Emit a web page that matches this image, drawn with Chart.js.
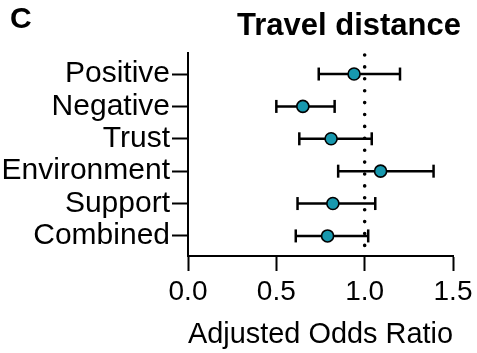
<!DOCTYPE html>
<html>
<head>
<meta charset="utf-8">
<script src="https://cdn.jsdelivr.net/npm/chart.js@4.4.1/dist/chart.umd.min.js"></script>
<style>
  html, body { margin: 0; padding: 0; background: #fff; }
  #wrap { width: 477px; height: 353px; position: relative; }
</style>
</head>
<body>
<div id="wrap"><canvas id="c" width="477" height="353"></canvas></div>
<script>
// ---- data ----
const categories = ['Positive', 'Negative', 'Trust', 'Environment', 'Support', 'Combined'];
const oddsRatio  = [0.94, 0.65, 0.81, 1.09, 0.82, 0.79];
const ciLower    = [0.74, 0.50, 0.63, 0.85, 0.62, 0.61];
const ciUpper    = [1.20, 0.83, 1.04, 1.39, 1.06, 1.02];
const xTicks     = [0.0, 0.5, 1.0, 1.5];
const refValue   = 1.0;
const panelLabel = 'C';
const titleText  = 'Travel distance';
const xTitle     = 'Adjusted Odds Ratio';

// ---- style ----
const FONT = "'Liberation Sans', Arial, Helvetica, sans-serif";
const TEAL = '#1798AE';
const Y_MIN = -0.65, Y_MAX = 5.62;

const pointData = categories.map((c, i) => ({ x: oddsRatio[i], y: i }));

const ciDatasets = categories.map((c, i) => ({
  label: c + ' CI',
  data: [{ x: ciLower[i], y: i }, { x: ciUpper[i], y: i }],
  showLine: true,
  borderColor: '#000',
  borderWidth: 2.5,
  pointStyle: 'line',
  rotation: 90,
  pointRadius: 6.5,
  pointBorderWidth: 2.5,
  pointBorderColor: '#000',
  pointBackgroundColor: '#000',
  order: 2
}));

const refDataset = {
  label: 'ref',
  data: [{ x: refValue, y: Y_MIN }, { x: refValue, y: Y_MAX }],
  showLine: true,
  borderColor: '#000',
  borderWidth: 3.6,
  borderDash: [0, 11.9],
  borderDashOffset: 9.9,
  borderCapStyle: 'round',
  pointRadius: 0,
  order: 3
};

const mainDataset = {
  label: 'OR',
  data: pointData,
  showLine: false,
  pointRadius: 6,
  pointBackgroundColor: TEAL,
  pointBorderColor: '#000',
  pointBorderWidth: 1.6,
  order: 1
};

const titlePlugin = {
  id: 'panelTitle',
  afterDraw(chart) {
    const ctx = chart.ctx;
    ctx.save();
    ctx.fillStyle = '#000';
    ctx.textBaseline = 'alphabetic';
    ctx.textAlign = 'left';
    ctx.font = 'bold 30px ' + FONT;
    ctx.fillText(panelLabel, 10, 28);
    ctx.textAlign = 'center';
    ctx.font = 'bold 31px ' + FONT;
    ctx.fillText(titleText, 349, 35);
    ctx.restore();
  }
};

new Chart(document.getElementById('c'), {
  type: 'scatter',
  data: { datasets: [mainDataset, ...ciDatasets, refDataset] },
  plugins: [titlePlugin],
  options: {
    responsive: false,
    animation: false,
    layout: { padding: { top: 53, right: 24, left: 0, bottom: 0 } },
    plugins: { legend: { display: false }, tooltip: { enabled: false } },
    scales: {
      x: {
        type: 'linear',
        min: 0, max: 1.5,
        afterBuildTicks: (s) => { s.ticks = xTicks.map(v => ({ value: v })); },
        afterFit: (s) => { s.height = 353 - 256; },
        ticks: {
          color: '#000',
          font: { family: FONT, size: 28 },
          padding: 4,
          maxRotation: 0,
          callback: (v) => Number(v).toFixed(1)
        },
        grid: { drawOnChartArea: false, drawTicks: true, tickLength: 15, color: '#000', tickWidth: 2 },
        border: { color: '#000', width: 2 },
        title: {
          display: true,
          text: xTitle,
          color: '#000',
          font: { family: FONT, size: 30 },
          padding: { top: 2, bottom: 0 }
        }
      },
      y: {
        type: 'linear',
        reverse: true,
        min: Y_MIN, max: Y_MAX,
        afterBuildTicks: (s) => { s.ticks = categories.map((c, i) => ({ value: i })); },
        afterFit: (s) => { s.width = 188; },
        ticks: {
          color: '#000',
          font: { family: FONT, size: 30 },
          padding: 2,
          callback: (v) => categories[v]
        },
        grid: { drawOnChartArea: false, drawTicks: true, tickLength: 16, color: '#000', tickWidth: 2 },
        border: { color: '#000', width: 2 }
      }
    }
  }
});
</script>
</body>
</html>
